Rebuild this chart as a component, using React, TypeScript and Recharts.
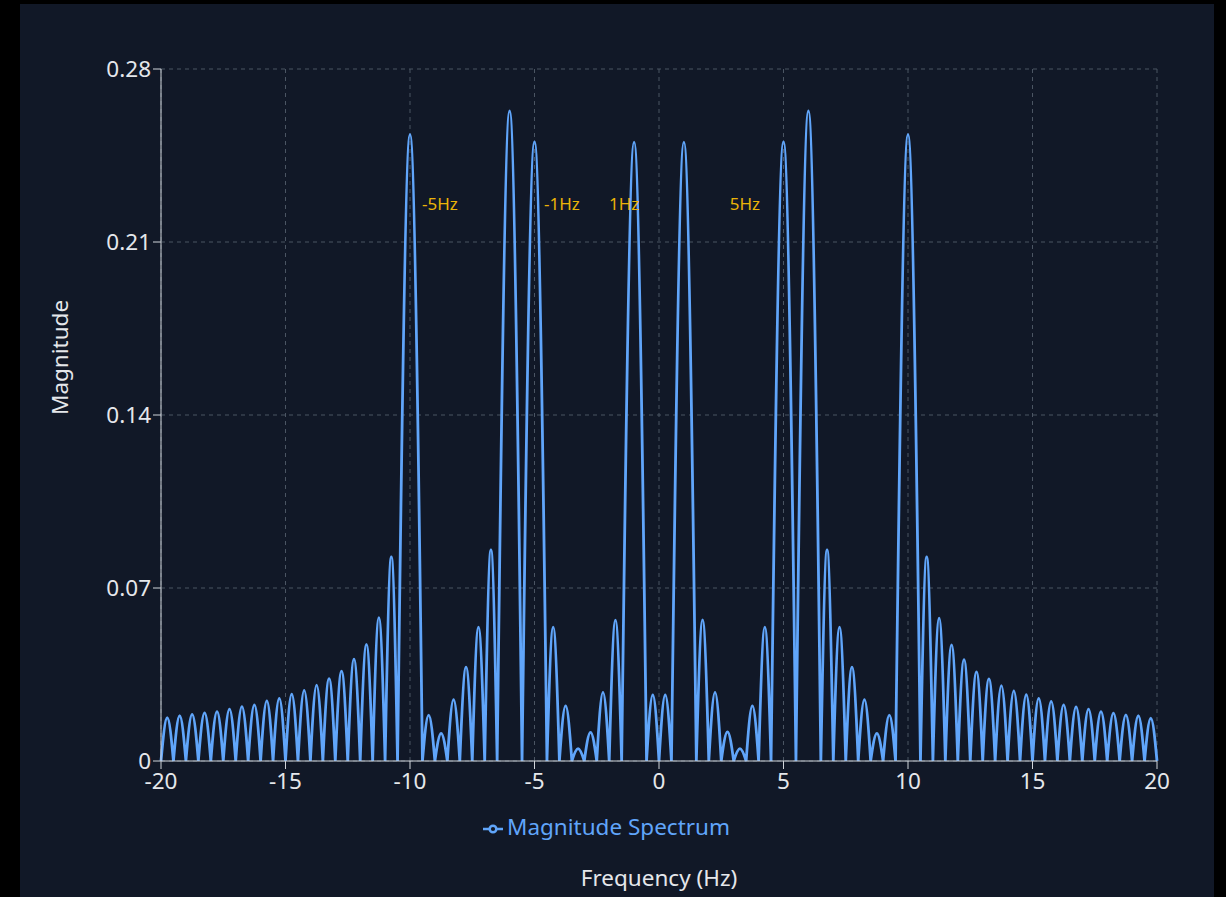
import React from 'react';
import { LineChart, Line, XAxis, YAxis, CartesianGrid, Legend, ReferenceDot } from 'recharts';

// Frequency axis positions (Hz) of the points: lobe zeros and lobe peaks
const freqHz = [
  -20, -19.75, -19.5, -19.25, -19, -18.75, -18.5, -18.25, -18, -17.75, -17.5, -17.25, -17, -16.75, -16.5, -16.25,
  -16, -15.75, -15.5, -15.25, -15, -14.75, -14.5, -14.25, -14, -13.75, -13.5, -13.25, -13, -12.75, -12.5, -12.25,
  -12, -11.75, -11.5, -11.25, -11, -10.75, -10.5,
  -10,
  -9.5, -9.25, -9, -8.75, -8.5, -8.25, -8, -7.75, -7.5, -7.25, -7, -6.75, -6.5,
  -6, -5.5, -5,
  -4.5, -4.25, -4, -3.75, -3.5, -3.25, -3, -2.75, -2.5, -2.25, -2, -1.75, -1.5,
  -1,
  -0.5, -0.25, 0, 0.25, 0.5,
  1,
  1.5, 1.75, 2, 2.25, 2.5, 2.75, 3, 3.25, 3.5, 3.75, 4, 4.25, 4.5,
  5, 5.5, 6,
  6.5, 6.75, 7, 7.25, 7.5, 7.75, 8, 8.25, 8.5, 8.75, 9, 9.25, 9.5,
  10,
  10.5, 10.75, 11, 11.25, 11.5, 11.75, 12, 12.25, 12.5, 12.75, 13, 13.25, 13.5, 13.75, 14, 14.25,
  14.5, 14.75, 15, 15.25, 15.5, 15.75, 16, 16.25, 16.5, 16.75, 17, 17.25, 17.5, 17.75, 18, 18.25,
  18.5, 18.75, 19, 19.25, 19.5, 19.75, 20,
];

// Magnitude at each of those frequencies
const magnitude = [
  0, 0.0175, 0, 0.0183, 0, 0.0189, 0, 0.0195, 0, 0.02, 0, 0.021, 0, 0.022, 0, 0.0227,
  0, 0.0243, 0, 0.0253, 0, 0.027, 0, 0.0286, 0, 0.0307, 0, 0.0333, 0, 0.0364, 0, 0.0412,
  0, 0.0472, 0, 0.058, 0, 0.0826, 0,
  0.2535,
  0, 0.0186, 0, 0.0112, 0, 0.0248, 0, 0.038, 0, 0.0542, 0, 0.0854, 0,
  0.263, 0, 0.2506,
  0, 0.0542, 0, 0.0223, 0, 0.005, 0, 0.0116, 0, 0.0278, 0, 0.057, 0,
  0.2504,
  0, 0.0267, 0, 0.0267, 0,
  0.2504,
  0, 0.0571, 0, 0.0278, 0, 0.0118, 0, 0.005, 0, 0.0223, 0, 0.0542, 0,
  0.2506, 0, 0.263,
  0, 0.0854, 0, 0.0542, 0, 0.038, 0, 0.0248, 0, 0.0112, 0, 0.0186, 0,
  0.2535,
  0, 0.0826, 0, 0.0578, 0, 0.047, 0, 0.041, 0, 0.0361, 0, 0.0332, 0, 0.0305, 0, 0.0284,
  0, 0.0268, 0, 0.0253, 0, 0.0241, 0, 0.0227, 0, 0.0219, 0, 0.021, 0, 0.02, 0, 0.0194,
  0, 0.0187, 0, 0.0183, 0, 0.0173, 0,
];

const xTicks = [-20, -15, -10, -5, 0, 5, 10, 15, 20];
const yTicks = [0, 0.07, 0.14, 0.21, 0.28];

const annotationText = ['-5Hz', '-1Hz', '1Hz', '5Hz'];
const annotationFreq = [-8.8, -3.9, -1.4, 3.45];
const annotationMag = [0.2253, 0.2253, 0.2253, 0.2253];

const data = freqHz.map((f, i) => ({ f, m: magnitude[i] }));

// Curve that joins zeros and peaks with sine-like arches (steep at the zeros, flat at the tops)
const arcCurve = (context: any) => {
  let x0 = 0;
  let y0 = 0;
  let n = 0;
  const k = 0.5236;
  return {
    areaStart() {},
    areaEnd() {},
    lineStart() {
      n = 0;
    },
    lineEnd() {},
    point(xx: number, yy: number) {
      const x = +xx;
      const y = +yy;
      if (n === 0) {
        context.moveTo(x, y);
      } else {
        const dx = x - x0;
        if (y < y0) {
          context.bezierCurveTo(x0 + dx / 3, y0 + (y - y0) * k, x0 + (2 * dx) / 3, y, x, y);
        } else if (y > y0) {
          context.bezierCurveTo(x0 + dx / 3, y0, x0 + (2 * dx) / 3, y - (y - y0) * k, x, y);
        } else {
          context.lineTo(x, y);
        }
      }
      x0 = x;
      y0 = y;
      n++;
    },
  };
};

const TEXT = '#e5e7eb';
const AXIS = '#d1d5db';
const FONT = '"Noto Sans", sans-serif';
const FS = 22.5;

export default function App() {
  return (
    <div style={{ position: 'fixed', inset: 0, background: '#000', overflow: 'hidden' }}>
      <div
        style={{ position: 'absolute', left: 20, top: 4, width: 1194, height: 900, background: '#111827' }}
      />
      <div style={{ position: 'absolute', left: 0, top: 0, fontFamily: FONT }}>
        <LineChart width={1226} height={897} data={data} margin={{ top: 69, right: 69, left: 66, bottom: 55 }}>
          <CartesianGrid stroke="#4b5563" strokeDasharray="4 4" />
          <XAxis
            dataKey="f"
            type="number"
            domain={[-20, 20]}
            ticks={xTicks}
            height={50}
            stroke={AXIS}
            tickSize={8}
            tickMargin={4}
            tick={{ fill: TEXT, fontSize: FS }}
            label={{ value: 'Frequency (Hz)', position: 'bottom', offset: 59, fill: TEXT, fontSize: FS }}
          />
          <YAxis
            type="number"
            domain={[0, 0.28]}
            ticks={yTicks}
            width={95}
            stroke={AXIS}
            tickSize={8}
            tick={{ fill: TEXT, fontSize: FS }}
            label={{ value: 'Magnitude', angle: -90, position: 'insideLeft', offset: -6, fill: TEXT, fontSize: FS }}
          />
          <Legend verticalAlign="bottom" iconSize={20} wrapperStyle={{ fontSize: FS }} />
          <Line
            type={arcCurve as any}
            dataKey="m"
            name="Magnitude Spectrum"
            stroke="#60a5fa"
            strokeWidth={2.8}
            dot={false}
            activeDot={false}
            isAnimationActive={false}
          />
          {annotationText.map((t, i) => (
            <ReferenceDot
              key={t}
              x={annotationFreq[i]}
              y={annotationMag[i]}
              r={0}
              fill="none"
              stroke="none"
              label={{ value: t, position: 'center', fill: '#eab308', fontSize: 17 }}
            />
          ))}
        </LineChart>
      </div>
    </div>
  );
}
